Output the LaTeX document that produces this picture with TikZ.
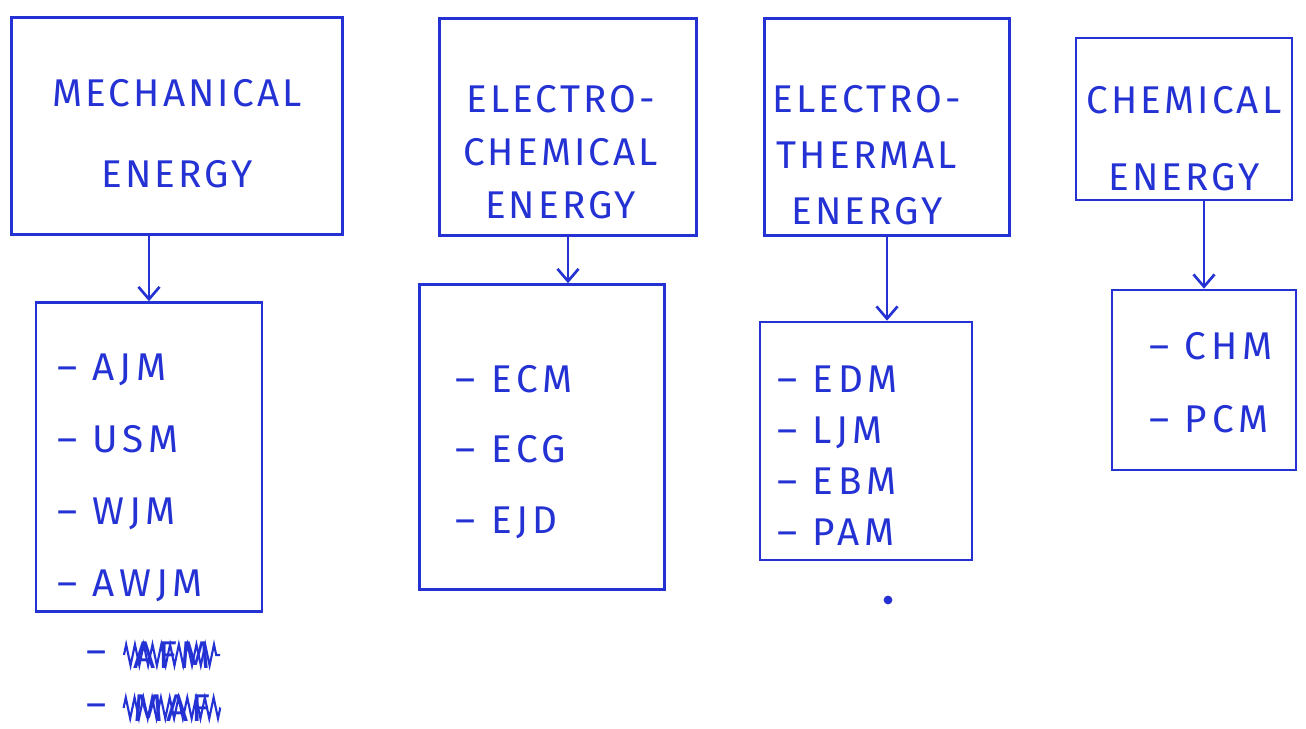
\documentclass[tikz,border=0pt]{standalone}
\usepackage{fontspec}
\setmainfont[LetterSpace=8]{Fira Sans}
\usetikzlibrary{arrows.meta,positioning,decorations.pathmorphing}
\definecolor{penblue}{RGB}{36,50,212}
\newcommand\itm{\textendash\hspace{9pt}}
\begin{document}
\begin{tikzpicture}[x=0.02cm,y=-0.02cm,
  every node/.style={text=penblue,font=\fontsize{22}{26}\selectfont},
  box/.style={draw=penblue,line width=1.5pt,inner sep=0pt},
  title/.style={align=center,inner sep=0pt},
  items/.style={align=left,inner sep=0pt,anchor=north west},
  flow/.style={draw=penblue,line width=1.5pt,-{Straight Barb[length=7pt,width=12pt]}},
  scribble/.style={draw=penblue,line width=1.2pt,decorate,decoration={zigzag,segment length=5pt,amplitude=6pt}}]
\useasboundingbox (0,0) rectangle (1306,729);
% energy sources
\node[box,minimum width=6.62cm,minimum height=4.34cm] (mech) at (177,126) {};
\node[box,minimum width=5.14cm,minimum height=4.34cm] (ecm) at (568,127) {};
\node[box,minimum width=4.9cm,minimum height=4.34cm] (etm) at (887,127) {};
\node[box,minimum width=4.32cm,minimum height=3.24cm] (chem) at (1184,119) {};
\node[title,font=\fontsize{22}{46}\selectfont] (mechtxt) at ([yshift=-0.16cm]mech.center) {MECHANICAL\\ENERGY};
\node[title,font=\fontsize{22}{30}\selectfont] (ecmtxt) at ([xshift=-0.15cm,yshift=-0.5cm]ecm.center) {ELECTRO-\\CHEMICAL\\ENERGY};
\node[title,font=\fontsize{22}{32}\selectfont] (etmtxt) at ([xshift=-0.4cm,yshift=-0.56cm]etm.center) {ELECTRO-\\THERMAL\\ENERGY};
\node[title,font=\fontsize{22}{44}\selectfont] (chemtxt) at ([yshift=-0.4cm]chem.center) {CHEMICAL\\ENERGY};
% processes
\node[box,minimum width=4.52cm,minimum height=6.18cm] (mechlist) at (149,457) {};
\node[box,minimum width=4.9cm,minimum height=6.1cm] (ecmlist) at (542,437) {};
\node[box,minimum width=4.24cm,minimum height=4.76cm] (etmlist) at (866,441) {};
\node[box,minimum width=3.68cm,minimum height=3.6cm] (chemlist) at (1204,380) {};
\tikzset{items/.append style={font=\fontsize{22}{41}\selectfont\addfontfeatures{LetterSpace=12}}}
\node[items] (mechitems) at ([xshift=0.44cm,yshift=-1.04cm]mechlist.north west) {\itm AJM\\\itm USM\\\itm WJM\\\itm AWJM};
\node[items,font=\fontsize{22}{40}\selectfont\addfontfeatures{LetterSpace=12}] (ecmitems) at ([xshift=0.74cm,yshift=-1.64cm]ecmlist.north west) {\itm ECM\\\itm ECG\\\itm EJD};
\node[items,font=\fontsize{22}{29}\selectfont\addfontfeatures{LetterSpace=12}] (etmitems) at ([xshift=0.36cm,yshift=-0.9cm]etmlist.north west) {\itm EDM\\\itm LJM\\\itm EBM\\\itm PAM};
\node[items,font=\fontsize{22}{42}\selectfont\addfontfeatures{LetterSpace=12}] (chemitems) at ([xshift=0.76cm,yshift=-0.86cm]chemlist.north west) {\itm CHM\\\itm PCM};
% struck out
\node (afm) at (172,655) {AFM};
\node (afmdash) at (97,658) {\textendash};
\node (maf) at (172,708) {MAF};
\node (mafdash) at (97,711) {\textendash};
\draw[scribble] ([xshift=-2pt]afm.west) -- ([xshift=2pt]afm.east);
\draw[scribble] ([xshift=-2pt]maf.west) -- ([xshift=2pt]maf.east);
\draw[flow] (mech.south -| mechlist.north) -- (mechlist.north);
\draw[flow] (ecm.south) -- (ecm.south |- ecmlist.north);
\draw[flow] (etm.south) -- (etm.south |- etmlist.north);
\draw[flow] (chem.south -| chemlist.north) -- (chemlist.north);
\fill[penblue] (888,600) circle[radius=2.5pt];
\end{tikzpicture}
\end{document}
